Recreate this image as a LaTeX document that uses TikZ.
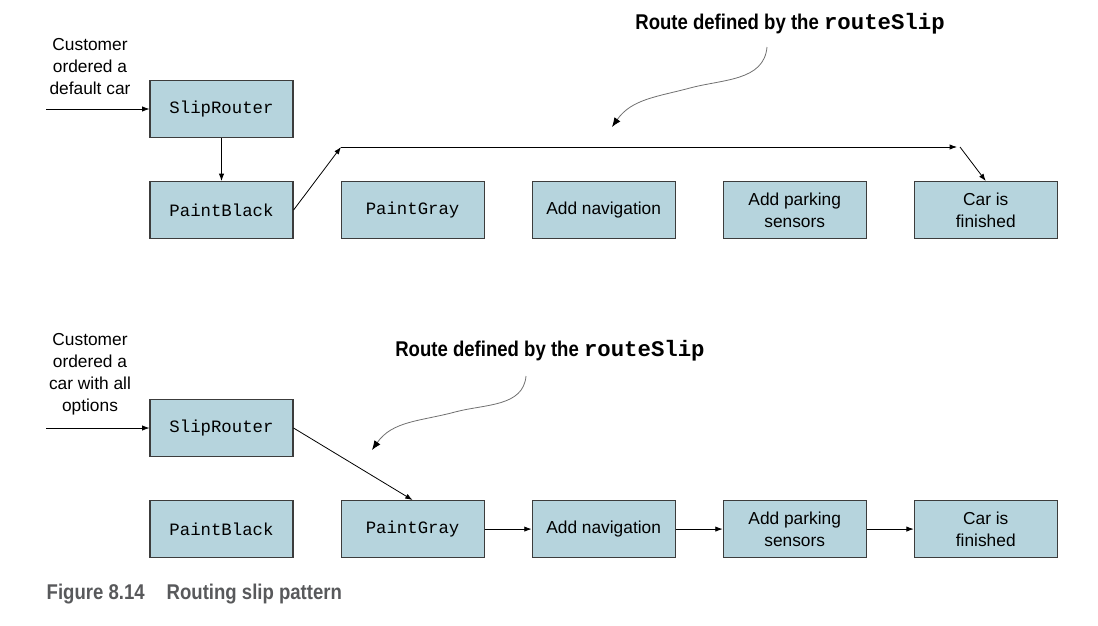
\documentclass[tikz,border=0pt]{standalone}
\usepackage{fontspec}
\setmainfont{Liberation Sans}
\setmonofont{Liberation Mono}
\newfontfamily\notefont[FakeStretch=0.87]{Liberation Sans}
\usepackage{xcolor}
\usetikzlibrary{arrows.meta,positioning}
\definecolor{boxblue}{HTML}{B6D4DD}
\definecolor{boxline}{HTML}{3C3C3C}
\definecolor{capgray}{HTML}{58595B}
\definecolor{hintgray}{HTML}{707070}

\begin{document}
\begin{tikzpicture}[
    x=0.75pt,y=-0.75pt,
    node distance=35.25pt,
    stage/.style={rectangle,draw=boxline,fill=boxblue,line width=0.8pt,align=center,minimum width=107.25pt,minimum height=42.75pt,inner sep=1pt,font=\fontsize{13}{16.5}\selectfont},
    code/.style={stage,font=\ttfamily\fontsize{13}{16.5}\selectfont},
    flow/.style={-{Latex[length=5.5pt,width=4pt]},line width=0.6pt},
    hint/.style={-{Latex[length=7pt,width=5.5pt,color=black]},line width=0.6pt,draw=hintgray},
    note/.style={font=\notefont\bfseries\fontsize{16}{20}\selectfont},
    cust/.style={align=center,font=\fontsize{13}{16.5}\selectfont}
]
\useasboundingbox (0,0) rectangle (1098,625);

% default car
\node[cust] (who1) at (90,67) {Customer\\ordered a\\default car};
\node[code] (sr1) at (221.5,109) {SlipRouter};
\node[code,below=32.25pt of sr1] (pb1) {PaintBlack};
\node[code,right=of pb1] (pg1) {PaintGray};
\node[stage,right=of pg1] (nav1) {Add navigation};
\node[stage,right=of nav1] (park1) {Add parking\\sensors};
\node[stage,right=of park1] (fin1) {Car is\\finished};
\coordinate (in1) at (46,109);
\coordinate (r1) at (341,147);
\coordinate (r2) at (957,147);
\coordinate (r3) at (960,147);
\node[note] (lbl1) at (790,24) {Route defined by the {\ttfamily\fontsize{16.75}{20}\selectfont routeSlip}};
\coordinate (h1) at (767,47);
\coordinate (t1) at (612,127);
\draw[flow] (in1) -- (sr1);
\draw[flow] (sr1) -- (pb1);
\draw[flow] (pb1.east) -- (r1);
\draw[flow] (r1) -- (r2);
\draw[flow] (r3) -- (fin1.north);
\draw[hint] (h1) to[out=-95,in=15] (690,88) to[out=195,in=55] (t1);

% all options
\node[cust] (who2) at (90,374) {Customer\\ordered a\\car with all\\options};
\node[code] (sr2) at (221.5,428) {SlipRouter};
\node[code,below=32.25pt of sr2] (pb2) {PaintBlack};
\node[code,right=of pb2] (pg2) {PaintGray};
\node[stage,right=of pg2] (nav2) {Add navigation};
\node[stage,right=of nav2] (park2) {Add parking\\sensors};
\node[stage,right=of park2] (fin2) {Car is\\finished};
\coordinate (in2) at (46,428);
\node[note] (lbl2) at (550,351) {Route defined by the {\ttfamily\fontsize{16.75}{20}\selectfont routeSlip}};
\coordinate (h2) at (526,376);
\coordinate (t2) at (372,450);
\draw[flow] (in2) -- (sr2);
\draw[flow] (sr2.east) -- (pg2.north);
\draw[flow] (pg2) -- (nav2);
\draw[flow] (nav2) -- (park2);
\draw[flow] (park2) -- (fin2);
\draw[hint] (h2) to[out=-95,in=15] (455,412) to[out=195,in=55] (t2);

\node[anchor=west,text=capgray,font=\notefont\bfseries\fontsize{16}{19}\selectfont] (cap) at (42,594) {Figure 8.14\hspace{16.5pt}Routing slip pattern};
\end{tikzpicture}
\end{document}
